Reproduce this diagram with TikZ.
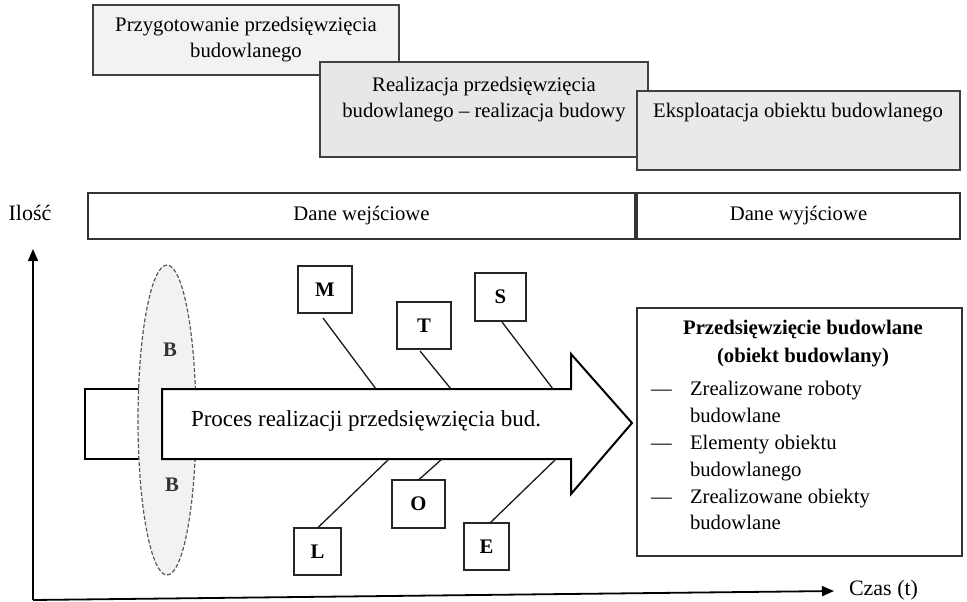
\documentclass[tikz,border=0pt]{standalone}
\usepackage{fontspec}
\setmainfont{Liberation Serif}
\usetikzlibrary{arrows.meta,shapes.geometric}
\begin{document}
\begin{tikzpicture}[x=1pt,y=-1pt,
  every node/.style={inner sep=0pt, outer sep=0pt},
  txt/.style={font=\fontsize{20.7}{26}\selectfont},
  phase/.style={draw=black!75, line width=1.1pt, rectangle},
  databox/.style={draw=black!80, line width=1.1pt, rectangle},
  letter/.style={draw=black!85, line width=1.2pt, fill=white, rectangle,
    minimum height=47pt, font=\fontsize{20.7}{26}\selectfont\bfseries},
  fishline/.style={line width=1.3pt, black!90},
  axis/.style={line width=1.8pt, -{Triangle[length=12pt,width=10pt]}},
  bigarrow/.style={line width=2pt, fill=white, line join=miter}]
\useasboundingbox (0,0) rectangle (967,602);

% project phases
\node[phase, fill=gray!10, minimum width=306pt, minimum height=70pt] (prep) at (246,40) {};
\node[txt, align=center] (preptxt) at (prep) {Przygotowanie przedsięwzięcia\\budowlanego};
\node[phase, fill=gray!19, minimum width=328pt, minimum height=95pt] (real) at (484,109.5) {};
\node[txt, align=center] (realtxt) at (484,99.5) {Realizacja przedsięwzięcia\\budowlanego – realizacja budowy};
\node[phase, fill=gray!17, minimum width=323pt, minimum height=79pt] (eksp) at (798.5,130.5) {};
\node[txt] (eksptxt) at (798,113) {Eksploatacja obiektu budowlanego};

% input / output data
\node[databox, minimum width=547pt, minimum height=46pt, txt] (inp) at (361.5,216) {Dane wejściowe};
\node[databox, minimum width=323pt, minimum height=46pt, txt] (outp) at (798.5,216) {Dane wyjściowe};

% axes
\coordinate (org) at (33,600);
\coordinate (ytip) at (33,249);
\coordinate (xtip) at (834,591);
\draw[axis] (org) -- (ytip);
\draw[axis] (org) -- (xtip);
\node[font=\fontsize{22}{26}\selectfont] (ilosc) at (30,213) {Ilość};
\node[font=\fontsize{22}{26}\selectfont, anchor=west] (czas) at (849,590) {Czas (t)};

% tail bracket, boundary ellipse and process arrow
\draw[line width=1.6pt] (165,389) -- (85,389) -- (85,459) -- (165,459);
\node[ellipse, draw=black!65, line width=1.2pt, dash pattern=on 4pt off 2pt,
  fill=gray!10, minimum width=58pt, minimum height=310pt] (bnd) at (167,420) {};
\node[txt, font=\fontsize{20.7}{26}\selectfont\bfseries, text=black!80] (b1) at (170,350) {B};
\node[txt, font=\fontsize{20.7}{26}\selectfont\bfseries, text=black!80] (b2) at (172,485) {B};

\draw[bigarrow] (162,389) -- (571,389) -- (571,354) -- (632,423) -- (571,494)
  -- (571,459) -- (162,459) -- cycle;
\node[font=\fontsize{23}{28}\selectfont] (proc) at (366,421) {Proces realizacji przedsięwzięcia bud.};

% points where the bones meet the arrow
\coordinate (mA) at (376,389);
\coordinate (tA) at (451,389);
\coordinate (sA) at (553,389);
\coordinate (lA) at (389,459);
\coordinate (oA) at (442,459);
\coordinate (eA) at (556,459);

% factor boxes
\node[letter, minimum width=54pt] (M) at (325,289.5) {M};
\node[letter, minimum width=54pt] (T) at (424,325.5) {T};
\node[letter, minimum width=51pt, minimum height=48pt] (S) at (500.5,297) {S};
\node[letter, minimum width=47pt] (L) at (317.5,551.5) {L};
\node[letter, minimum width=53pt, minimum height=48pt] (O) at (418.5,504) {O};
\node[letter, minimum width=45pt] (E) at (486.5,546.5) {E};

\draw[fishline] ([xshift=-2pt,yshift=-5pt]M.south) -- (mA);
\draw[fishline] ([xshift=-4pt,yshift=-2pt]T.south) -- (tA);
\draw[fishline] ([xshift=1.5pt,yshift=-1pt]S.south) -- (sA);
\draw[fishline] (L.north) -- (lA);
\draw[fishline] (O.north) -- (oA);
\draw[fishline] ([xshift=3.5pt]E.north) -- (eA);

% result of the process
\node[databox, minimum width=325pt, minimum height=248pt] (res) at (799.5,432) {};
\node[align=center, font=\fontsize{20.7}{28}\selectfont\bfseries] (restitle) at (803,344)
  {Przedsięwzięcie budowlane\\(obiekt budowlany)};
\node[txt, anchor=base west] (d1) at (651,395) {—};
\node[txt, anchor=base west] (r1a) at (690,395) {Zrealizowane roboty};
\node[txt, anchor=base west] (r1b) at (690,422) {budowlane};
\node[txt, anchor=base west] (d2) at (651,449) {—};
\node[txt, anchor=base west] (r2a) at (690,449) {Elementy obiektu};
\node[txt, anchor=base west] (r2b) at (690,476) {budowlanego};
\node[txt, anchor=base west] (d3) at (651,503) {—};
\node[txt, anchor=base west] (r3a) at (690,503) {Zrealizowane obiekty};
\node[txt, anchor=base west] (r3b) at (690,529) {budowlane};
\end{tikzpicture}
\end{document}
